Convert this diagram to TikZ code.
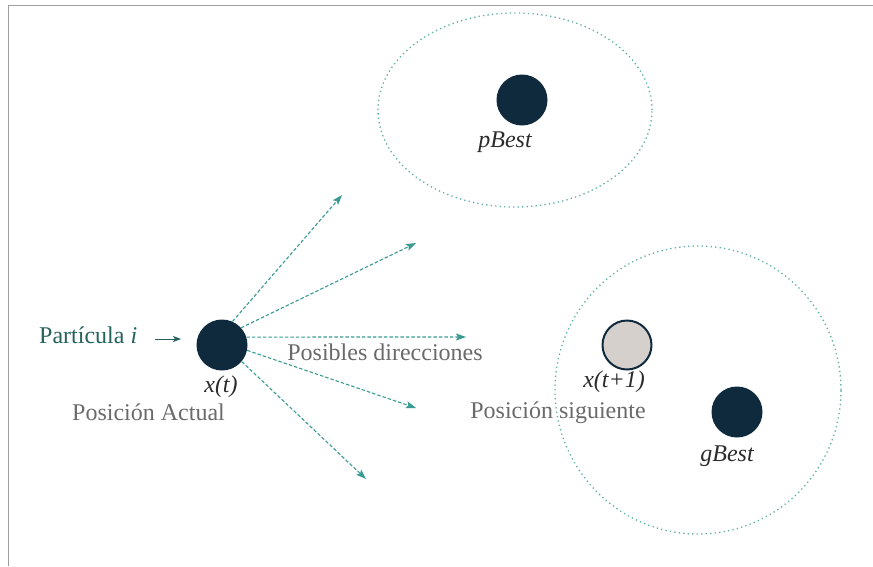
\documentclass[tikz,border=0pt]{standalone}
\usepackage{fontspec}
\setmainfont{Liberation Serif}
\usetikzlibrary{arrows.meta}
\definecolor{navy}{HTML}{0F2A3D}
\definecolor{paleball}{HTML}{D6D0CD}
\definecolor{tealline}{HTML}{3A9A94}
\definecolor{tealdot}{HTML}{5DAFA6}
\definecolor{tealtext}{HTML}{24625D}
\definecolor{graytext}{HTML}{6A6A6A}
\definecolor{labeltext}{HTML}{2B2B2B}
\definecolor{framegray}{HTML}{9E9E9E}
\tikzset{
  big/.style={font=\fontsize{24}{28}\selectfont},
  ball/.style={circle, fill=navy, draw=none, minimum size=51pt, inner sep=0pt},
  paleballstyle/.style={circle, fill=paleball, draw=navy, line width=2pt, minimum size=49pt, inner sep=0pt},
  zone/.style={draw=tealdot, line width=1.3pt, dash pattern=on 1.3pt off 3.2pt},
  dirarrow/.style={draw=tealline, line width=1.1pt, dash pattern=on 3.5pt off 2pt,
    -{Stealth[length=10pt,width=7pt,inset=2pt]}},
  ballname/.style={big, text=labeltext, font=\fontsize{24}{28}\selectfont\itshape, anchor=base, inner sep=0pt},
  caption/.style={big, text=graytext, anchor=base, inner sep=0pt},
}
\begin{document}
\begin{tikzpicture}[x=1pt,y=-1pt]
  \useasboundingbox (0,0) rectangle (873,566);
  % frame
  \draw[framegray, line width=1.8pt] (8.5,566) -- (8.5,5.5) -- (873,5.5);

  % regions around the best positions
  \draw[zone] (515,110) ellipse [x radius=137pt, y radius=97pt];
  \draw[zone] (698,390) ellipse [x radius=143pt, y radius=144pt];

  % particles
  \node[ball] (xt) at (222,345) {};
  \node[ball] (pbest) at (522,100) {};
  \node[ball] (gbest) at (737,412) {};
  \node[paleballstyle] (xnext) at (627,345) {};

  % labels
  \node[ballname] (lxt) at (221,392) {x(t)};
  \node[caption] (cxt) at (148.5,420) {Posición Actual};
  \node[ballname] (lpbest) at (505,147) {pBest};
  \node[ballname] (lgbest) at (727,461) {gBest};
  \node[ballname] (lxnext) at (614,387) {x(t+1)};
  \node[caption] (cnext) at (558,418) {Posición siguiente};
  \node[caption] (cdir) at (385,360) {Posibles direcciones};
  \node[big, text=tealtext, anchor=base west, inner sep=0pt] (part) at (39,343) {Partícula \textit{i}};

  % pointer to the particle
  \coordinate (pa) at (155,339);
  \coordinate (pb) at (181,339);
  \draw[tealtext, line width=0.8pt, -{Stealth[length=8pt,width=6pt,inset=2pt]}] (pa) -- (pb);

  % candidate directions
  \coordinate (d1) at (342,195);
  \coordinate (d2) at (416,243);
  \coordinate (d3) at (466,337);
  \coordinate (d4) at (416,408);
  \coordinate (d5) at (366,479);
  \path[dirarrow] (xt.66) -- (d1);
  \path[dirarrow] (xt.42) -- (d2);
  \path[dirarrow] (xt.18) -- (d3);
  \path[dirarrow] (xt.-12) -- (d4);
  \path[dirarrow] (xt.-40) -- (d5);
\end{tikzpicture}
\end{document}
